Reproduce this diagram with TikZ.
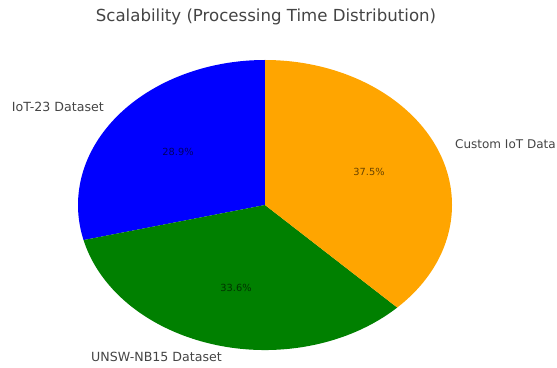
\documentclass[tikz,border=0pt]{standalone}
\usepackage{fontspec}
\setmainfont{DejaVu Sans}
\usetikzlibrary{positioning}

\definecolor{mplorange}{RGB}{255,165,0}
\definecolor{mplgreen}{RGB}{0,128,0}
\definecolor{mplblue}{RGB}{0,0,255}
\definecolor{txtgray}{RGB}{68,68,68}

\begin{document}
\begin{tikzpicture}[x=1pt,y=1pt,
  lbl/.style={text=txtgray,font=\fontsize{12.6}{15}\selectfont,inner sep=0pt},
  pct/.style={text=black,opacity=0.6,font=\fontsize{9.8}{11}\selectfont,inner sep=0pt}]
  \clip (0,0) rectangle (557,367);
  \useasboundingbox (0,0) rectangle (557,367);
  \coordinate (c) at (265,162);
  % slices: start angle / end angle / colour
  \foreach \a/\b/\col in {90/194/mplblue, 194/315/mplgreen, 315/450/mplorange}
    \fill[\col] (c) -- ++(\a:187 and 145) arc[start angle=\a,end angle=\b,x radius=187,y radius=145] -- cycle;
  \node[text=txtgray,font=\fontsize{16.6}{19}\selectfont] (title) at (266,350) {Scalability (Processing Time Distribution)};
  \node[lbl,anchor=east] (iot23) at (104,260) {IoT-23 Dataset};
  \node[lbl,anchor=east] (unsw) at (222,10) {UNSW-NB15 Dataset};
  \node[lbl,anchor=west,font=\fontsize{12}{14}\selectfont] (custom) at (455,223) {Custom IoT Data};
  \node[pct] (p-iot23) at (178,215) {28.9\%};
  \node[pct] (p-unsw) at (236,79) {33.6\%};
  \node[pct] (p-custom) at (369,195) {37.5\%};
\end{tikzpicture}
\end{document}
